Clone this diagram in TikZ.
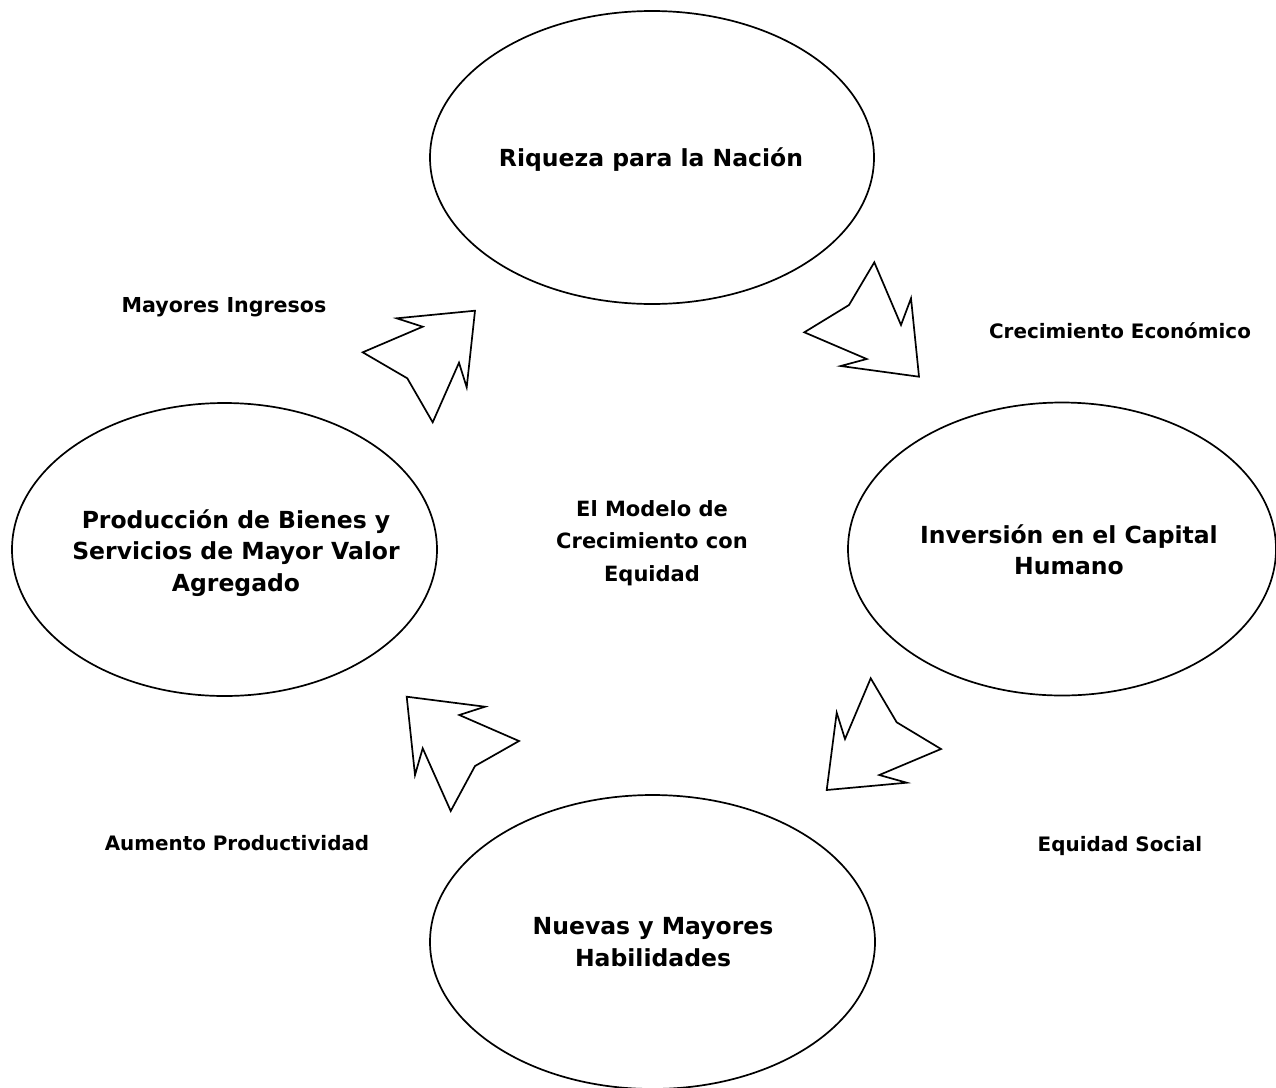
\documentclass[tikz,border=0pt]{standalone}
\usepackage{fontspec}
\setmainfont{DejaVu Sans}
\usetikzlibrary{shapes.geometric}

\tikzset{
  stage/.style={draw, ellipse, line width=1.7pt, inner sep=0pt},
  stagetext/.style={align=center, font=\bfseries\fontsize{23.5}{31.5}\selectfont},
  hub/.style={align=center, font=\bfseries\fontsize{21}{32.5}\selectfont},
  flowlabel/.style={align=center, font=\bfseries\fontsize{19.9}{24}\selectfont},
  blockarrow/.style={draw, line width=1.7pt, line join=miter, fill=white},
}

\begin{document}
\begin{tikzpicture}[x=1pt, y=-1pt]
  \useasboundingbox (0,0) rectangle (1276,1087);

  % the four stages of the cycle
  \node[stage, minimum width=444pt, minimum height=293pt] (riqueza) at (652,157.5) {};
  \node[stagetext] (riquezatext) at (651,160) {Riqueza para la Nación};
  \node[stage, minimum width=428pt, minimum height=293pt] (inversion) at (1062,549) {};
  \node[stagetext] (invtext) at (1069,550) {Inversión en el Capital\\Humano};
  \node[stage, minimum width=445pt, minimum height=294pt] (habilidades) at (652.5,942) {};
  \node[stagetext] (habtext) at (653,942) {Nuevas y Mayores\\Habilidades};
  \node[stage, minimum width=425pt, minimum height=293pt] (produccion) at (224.5,549.5) {};
  \node[stagetext] (prodtext) at (236,553) {Producción de Bienes y\\Servicios de Mayor Valor\\Agregado};

  % centre title
  \node[hub] (modelo) at (652,543) {El Modelo de\\Crecimiento con\\Equidad};

  % block arrows between the stages
  \draw[blockarrow] (396.7,318.3) -- (475,310.7) -- (466.7,387.3) -- (459,362.7)
    -- (432.7,422.3) -- (407.3,378.3) -- (362.7,352.3) -- (422.7,326.7) -- cycle;
  \draw[blockarrow] (874.3,262.3) -- (901,325) -- (911,298.3) -- (919,376.7)
    -- (840.7,366) -- (866.7,359) -- (804.3,332.3) -- (849,305) -- cycle;
  \draw[blockarrow] (870.7,678.3) -- (896.7,722.3) -- (941,749) -- (879.3,775)
    -- (906.7,782.7) -- (826.7,790) -- (836.7,712.7) -- (845,739) -- cycle;
  \draw[blockarrow] (406.7,696.7) -- (485,706.7) -- (459.3,715) -- (519,741)
    -- (475,766) -- (450.7,811) -- (422.7,748.3) -- (415,775) -- cycle;

  % labels of the transitions
  \node[flowlabel, font=\bfseries\fontsize{20.6}{24}\selectfont] (ingresos) at (224,307) {Mayores Ingresos};
  \node[flowlabel] (crecimiento) at (1120,331) {Crecimiento Económico};
  \node[flowlabel] (equidad) at (1120,846) {Equidad Social};
  \node[flowlabel] (productividad) at (237,843) {Aumento Productividad};
\end{tikzpicture}
\end{document}
